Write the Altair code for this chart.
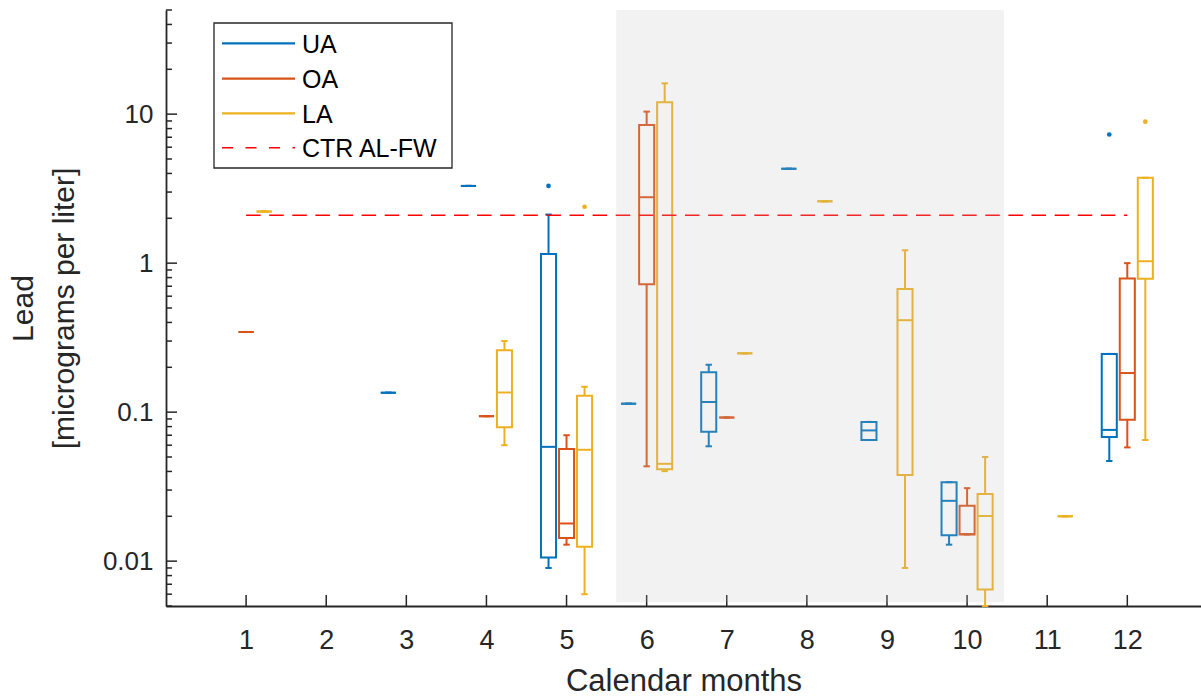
import altair as alt
import pandas as pd

# ---------------- data ----------------
groups = ["UA", "OA", "LA"]
group_colors = ["#0072BD", "#D95319", "#EDB120"]
group_offsets = [-0.225, 0.0, 0.225]

ua_months = [3, 4, 5, 6, 7, 8, 9, 10, 12]
ua_low = [0.135, 3.3, 0.009, 0.114, 0.059, 4.3, 0.065, 0.0129, 0.047]
ua_q1 = [0.135, 3.3, 0.0106, 0.114, 0.074, 4.3, 0.065, 0.0149, 0.068]
ua_med = [0.135, 3.3, 0.0585, 0.114, 0.117, 4.3, 0.0754, 0.0254, 0.076]
ua_q3 = [0.135, 3.3, 1.15, 0.114, 0.185, 4.3, 0.086, 0.0339, 0.246]
ua_high = [0.135, 3.3, 2.12, 0.114, 0.208, 4.3, 0.086, 0.0339, 0.246]

oa_months = [1, 4, 5, 6, 7, 10, 12]
oa_low = [0.345, 0.094, 0.0129, 0.0433, 0.092, 0.0151, 0.058]
oa_q1 = [0.345, 0.094, 0.0143, 0.722, 0.092, 0.0151, 0.0888]
oa_med = [0.345, 0.094, 0.0179, 2.77, 0.092, 0.0152, 0.183]
oa_q3 = [0.345, 0.094, 0.0565, 8.44, 0.092, 0.0235, 0.789]
oa_high = [0.345, 0.094, 0.070, 10.4, 0.092, 0.0309, 1.0]

la_months = [1, 4, 5, 6, 7, 8, 9, 10, 11, 12]
la_low = [2.22, 0.060, 0.006, 0.0402, 0.248, 2.6, 0.009, 0.005, 0.02, 0.065]
la_q1 = [2.22, 0.0793, 0.0125, 0.0414, 0.248, 2.6, 0.0379, 0.00645, 0.02, 0.785]
la_med = [2.22, 0.1355, 0.0559, 0.045, 0.248, 2.6, 0.414, 0.0201, 0.02, 1.03]
la_q3 = [2.22, 0.26, 0.1288, 12.0, 0.248, 2.6, 0.67, 0.0282, 0.02, 3.74]
la_high = [2.22, 0.30, 0.148, 16.1, 0.248, 2.6, 1.22, 0.05, 0.02, 3.74]

out_group = ["UA", "LA", "UA", "LA"]
out_month = [5, 5, 12, 12]
out_value = [3.3, 2.39, 7.3, 8.9]

ctr_label = "CTR AL-FW"
ctr_value = 2.1
ctr_months = [1, 12]

shade_months = [5.62, 10.46]
shade_values = [0.0053, 50]

month_ticks = [1, 2, 3, 4, 5, 6, 7, 8, 9, 10, 11, 12]
y_major = [0.01, 0.1, 1, 10]
y_minor = [0.005, 0.006, 0.007, 0.008, 0.009,
           0.02, 0.03, 0.04, 0.05, 0.06, 0.07, 0.08, 0.09,
           0.2, 0.3, 0.4, 0.5, 0.6, 0.7, 0.8, 0.9,
           2, 3, 4, 5, 6, 7, 8, 9,
           20, 30, 40, 50]

# ---------------- styling ----------------
W, H = 1035, 596
FONT = "Liberation Sans"
INK = "#262626"
BOX_HW = 0.094
CAP_HW = 0.04

xscale = alt.Scale(domain=[0, 12.92], nice=False, zero=False)
yscale = alt.Scale(type="log", domain=[0.005, 50], nice=False)

xaxis = alt.Axis(values=month_ticks, format="d", ticks=False, tickSize=0, grid=False,
                 domainColor=INK, domainWidth=1.8, labelFont=FONT, labelFontSize=27,
                 labelColor=INK, labelPadding=42, labelBaseline="alphabetic", labelFlush=False,
                 title="Calendar months", titleFont=FONT, titleFontSize=31,
                 titleFontWeight="normal", titleColor=INK, titleY=84,
                 titleBaseline="alphabetic")
yaxis = alt.Axis(values=y_major, format="~g", ticks=False, tickSize=0, grid=False,
                 domainColor=INK, domainWidth=1.8, labelFont=FONT, labelFontSize=26,
                 labelColor=INK, labelPadding=13, labelFlush=False,
                 title=["Lead", "[micrograms per liter]"], titleFont=FONT, titleFontSize=30,
                 titleFontWeight="normal", titleColor=INK, titleX=-143, titleY=298,
                 titleAlign="center", titleBaseline="middle", titleLineHeight=41)


def X(field):
    return alt.X(field, type="quantitative", scale=xscale, axis=xaxis)


def Y(field):
    return alt.Y(field, type="quantitative", scale=yscale, axis=yaxis)


# ---------------- tables ----------------
rows = []
series = [
    (ua_months, ua_low, ua_q1, ua_med, ua_q3, ua_high),
    (oa_months, oa_low, oa_q1, oa_med, oa_q3, oa_high),
    (la_months, la_low, la_q1, la_med, la_q3, la_high),
]
for g, off, (ms, lo, q1, md, q3, hi) in zip(groups, group_offsets, series):
    for i, m in enumerate(ms):
        xc = m + off
        rows.append(dict(group=g, x=xc, xl=xc - BOX_HW, xr=xc + BOX_HW,
                         cl=xc - CAP_HW, cr=xc + CAP_HW,
                         low=lo[i], q1=q1[i], med=md[i], q3=q3[i], high=hi[i]))
boxes = pd.DataFrame(rows)

offs = dict(zip(groups, group_offsets))
outliers = pd.DataFrame({"group": out_group,
                         "x": [m + offs[g] for g, m in zip(out_group, out_month)],
                         "v": out_value})
ctr = pd.DataFrame({"x": [ctr_months[0]], "x2": [ctr_months[1]], "v": [ctr_value]})
shade = pd.DataFrame({"x": [shade_months[0]], "x2": [shade_months[1]],
                      "y": [shade_values[0]], "y2": [shade_values[1]]})
ymaj = pd.DataFrame({"v": y_major})
ymin = pd.DataFrame({"v": y_minor})
xt = pd.DataFrame({"x": month_ticks})

stroke_enc = alt.Stroke("group:N", scale=alt.Scale(domain=groups, range=group_colors), legend=None)
color_enc = alt.Color("group:N", scale=alt.Scale(domain=groups, range=group_colors), legend=None)

# ---------------- layers ----------------
layers = []
layers.append(alt.Chart(ymaj).mark_rule(color=INK, strokeWidth=1.5).encode(
    y=Y("v"), x=alt.value(0), x2=alt.value(11)))
layers.append(alt.Chart(ymin).mark_rule(color=INK, strokeWidth=1.5).encode(
    y=Y("v"), x=alt.value(0), x2=alt.value(6)))
layers.append(alt.Chart(xt).mark_rule(color=INK, strokeWidth=1.5).encode(
    x=X("x"), y=alt.value(H), y2=alt.value(H - 11)))

base = alt.Chart(boxes)
layers.append(base.mark_rect(fillOpacity=0, strokeWidth=2).encode(
    x=X("xl"), x2="xr", y=Y("q1"), y2="q3", stroke=stroke_enc))
layers.append(base.mark_rule(strokeWidth=2).encode(
    x=X("xl"), x2="xr", y=Y("med"), color=color_enc))
layers.append(base.mark_rule(strokeWidth=2).encode(
    x=X("x"), y=Y("q3"), y2="high", color=color_enc))
layers.append(base.mark_rule(strokeWidth=2).encode(
    x=X("x"), y=Y("low"), y2="q1", color=color_enc))
layers.append(base.mark_rule(strokeWidth=2).encode(
    x=X("cl"), x2="cr", y=Y("high"), color=color_enc))
layers.append(base.mark_rule(strokeWidth=2).encode(
    x=X("cl"), x2="cr", y=Y("low"), color=color_enc))
layers.append(alt.Chart(outliers).mark_circle(size=22, opacity=1).encode(
    x=X("x"), y=Y("v"), color=color_enc))
layers.append(alt.Chart(ctr).mark_rule(color="#FF0000", strokeWidth=1.5,
                                       strokeDash=[14.5, 8.6]).encode(
    x=X("x"), x2="x2", y=Y("v")))
layers.append(alt.Chart(shade).mark_rect(fill="#bfbfbf", opacity=0.2).encode(
    x=X("x"), x2="x2", y=Y("y"), y2="y2"))

# ---------------- legend (pixel placed) ----------------
dummy = pd.DataFrame({"a": [0]})
layers.append(alt.Chart(dummy).mark_rect(fill="white", stroke=INK, strokeWidth=1.3).encode(
    x=alt.value(48), x2=alt.value(286), y=alt.value(13), y2=alt.value(158)))
leg_labels = groups + [ctr_label]
leg_colors = group_colors + ["#FF0000"]
leg_y = [33.3, 68.7, 103.3, 137.7]
for i, (lab, col, ly) in enumerate(zip(leg_labels, leg_colors, leg_y)):
    if i < 3:
        rule = alt.Chart(dummy).mark_rule(color=col, strokeWidth=2.2)
    else:
        rule = alt.Chart(dummy).mark_rule(color=col, strokeWidth=1.5, strokeDash=[11, 12.5])
    layers.append(rule.encode(x=alt.value(56), x2=alt.value(129), y=alt.value(ly)))
    layers.append(alt.Chart(dummy).mark_text(text=lab, font=FONT, fontSize=25, color="#000000",
                                             align="left", baseline="middle").encode(
        x=alt.value(136), y=alt.value(ly + 1.5)))

chart = alt.layer(*layers).properties(
    width=W, height=H,
    autosize=alt.AutoSizeParams(type="none"),
    padding={"left": 166, "top": 10, "right": 0, "bottom": 90},
    background="white",
).configure_view(stroke=None)

chart.save("out.html", embed_options={"renderer": "svg", "actions": False})
